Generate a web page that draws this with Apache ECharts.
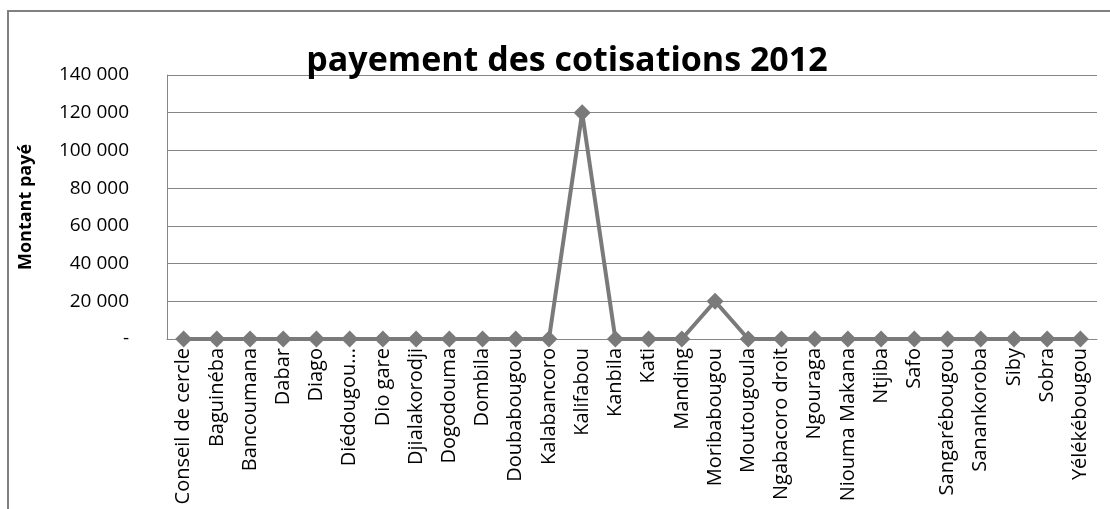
<!DOCTYPE html>
<html><head><meta charset="utf-8">
<script src="https://cdn.jsdelivr.net/npm/echarts@6/dist/echarts.min.js"></script>
<style>html,body{margin:0;padding:0;background:#fff}#c{width:1110px;height:509px}</style>
</head><body><div id="c"></div>
<script>
const categories = ["Conseil de cercle","Baguinéba","Bancoumana","Dabar","Diago","Diédougou...","Dio gare","Djialakorodji","Dogodouma","Dombila","Doubabougou","Kalabancoro","Kalifabou","Kanbila","Kati","Manding","Moribabougou","Moutougoula","Ngabacoro droit","Ngouraga","Niouma Makana","Ntjiba","Safo","Sangarébougou","Sanankoroba","Siby","Sobra","Yélékébougou"];
const montant = [0,0,0,0,0,0,0,0,0,0,0,0,120000,0,0,0,20000,0,0,0,0,0,0,0,0,0,0,0];
const titleText = "payement des cotisations 2012";
const yName = "Montant payé";

const chart = echarts.init(document.getElementById('c'));
const font = "'Open Sans', sans-serif";
chart.setOption({
  animation:false,
  backgroundColor:'#fff',
  graphic:[{type:'rect',shape:{x:8,y:11,width:1200,height:600},style:{fill:'none',stroke:'#808080',lineWidth:2},silent:true}],
  title:{text:titleText,left:562,textAlign:'center',top:39,textStyle:{fontFamily:font,fontWeight:'bold',fontSize:34,color:'#000'}},
  grid:{left:167,right:13,top:75,bottom:170,containLabel:false},
  xAxis:{type:'category',data:categories,boundaryGap:true,
    axisLine:{lineStyle:{color:'#868686',width:1}},axisTick:{show:false},
    axisLabel:{rotate:90,interval:0,margin:9,fontFamily:font,fontSize:20,color:'#000'}},
  yAxis:{type:'value',min:0,max:140000,interval:20000,
    name:yName,nameLocation:'middle',nameRotate:90,nameGap:132,
    nameTextStyle:{fontFamily:font,fontWeight:'bold',fontSize:18,color:'#000'},
    axisLine:{show:true,lineStyle:{color:'#868686',width:1}},axisTick:{show:false},
    splitLine:{lineStyle:{color:'#868686',width:1}},
    axisLabel:{margin:38,fontFamily:font,fontSize:19,color:'#000',
      formatter:v=> v===0 ? '-' : String(v).replace(/\B(?=(\d{3})+(?!\d))/g,' ')}},
  series:[{type:'line',data:montant,symbol:'diamond',symbolSize:17,
    lineStyle:{color:'#7a7a7a',width:4},itemStyle:{color:'#7a7a7a'}}]
});
</script></body></html>
